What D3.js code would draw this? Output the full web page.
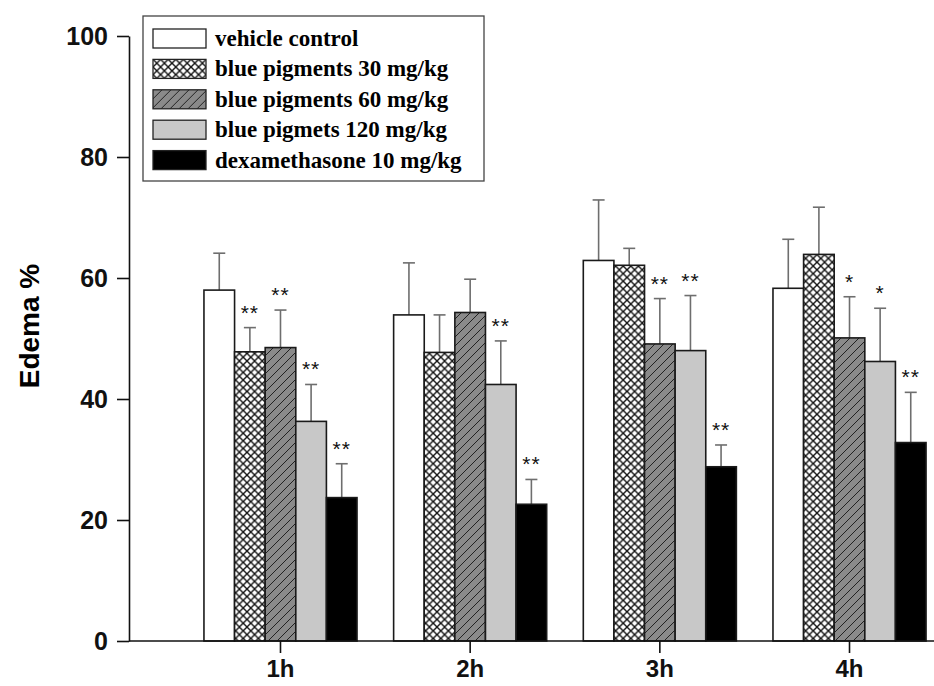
<!DOCTYPE html>
<html>
<head>
<meta charset="utf-8">
<script src="https://cdn.jsdelivr.net/npm/d3@7"></script>
<style>
  body { margin: 0; background: #fff; }
  svg { display: block; }
</style>
</head>
<body>
<svg width="934" height="686"></svg>
<script>
// time points and treatment groups
const timepoints = ["1h", "2h", "3h", "4h"];
const groups = [
    "vehicle control",
    "blue pigments 30 mg/kg",
    "blue pigments 60 mg/kg",
    "blue pigmets 120 mg/kg",
    "dexamethasone 10 mg/kg"
];
// mean edema % per time point (rows) and group (columns)
const means = [
    [58.0, 47.8, 48.5, 36.3, 23.7],
    [53.9, 47.7, 54.3, 42.4, 22.6],
    [62.9, 62.1, 49.1, 48.0, 28.8],
    [58.3, 63.9, 50.1, 46.2, 32.8]
];
// error bar (upper) sizes
const errors = [
    [6.1, 4.0, 6.2, 6.1, 5.6],
    [8.6, 6.2, 5.5, 7.2, 4.1],
    [10.0, 2.8, 7.5, 9.1, 3.6],
    [8.1, 7.8, 6.8, 8.8, 8.3]
];
// significance marks
const marks = [
    ["", "**", "**", "**", "**"],
    ["", "", "", "**", "**"],
    ["", "", "**", "**", "**"],
    ["", "", "*", "*", "**"]
];
const yTicks = [0, 20, 40, 60, 80, 100];

const svg = d3.select("svg");
const W = 934, H = 686;
const axisX = 129;

// fills
const defs = svg.append("defs");
const cross = defs.append("pattern")
    .attr("id", "cross")
    .attr("patternUnits", "userSpaceOnUse")
    .attr("width", 7.6).attr("height", 7.6);
cross.append("rect").attr("width", 7.6).attr("height", 7.6).attr("fill", "#fff");
cross.append("path")
    .attr("d", "M0,0L7.6,7.6M7.6,0L0,7.6")
    .attr("stroke", "#111").attr("stroke-width", 1.4);

const hatch = defs.append("pattern")
    .attr("id", "hatch")
    .attr("patternUnits", "userSpaceOnUse")
    .attr("width", 9).attr("height", 9);
hatch.append("rect").attr("width", 9).attr("height", 9).attr("fill", "#8a8a8a");
hatch.append("path")
    .attr("d", "M0,9L9,0M-2,2L2,-2M7,11L11,7")
    .attr("stroke", "#222").attr("stroke-width", 1);

const fills = ["#fff", "url(#cross)", "url(#hatch)", "#c8c8c8", "#000"];

// scales
const y = d3.scaleLinear().domain([0, 100]).range([641, 36]);

const x0 = d3.scaleBand()
    .domain(timepoints)
    .range([185.65, 944.35])
    .paddingInner(0.193)
    .paddingOuter(0.0965);

const x1 = d3.scaleBand()
    .domain(groups)
    .range([0, x0.bandwidth()]);

// table for drawing
const rows = [];
timepoints.forEach((t, i) => {
    groups.forEach((g, j) => {
        rows.push({ time: t, group: g, idx: j, value: means[i][j], err: errors[i][j], mark: marks[i][j] });
    });
});

const plot = svg.append("g");

// error bars (behind bars)
const eb = plot.selectAll(".err")
    .data(rows)
    .enter().append("g")
    .attr("class", "err")
    .attr("stroke", "#6e6e6e")
    .attr("stroke-width", 1.6);

eb.append("line")
    .attr("x1", d => x0(d.time) + x1(d.group) + x1.bandwidth() / 2)
    .attr("x2", d => x0(d.time) + x1(d.group) + x1.bandwidth() / 2)
    .attr("y1", d => y(d.value))
    .attr("y2", d => y(d.value + d.err));

eb.append("line")
    .attr("x1", d => x0(d.time) + x1(d.group) + x1.bandwidth() / 2 - 6)
    .attr("x2", d => x0(d.time) + x1(d.group) + x1.bandwidth() / 2 + 6)
    .attr("y1", d => y(d.value + d.err))
    .attr("y2", d => y(d.value + d.err));

// bars
plot.selectAll(".bar")
    .data(rows)
    .enter().append("rect")
    .attr("class", "bar")
    .attr("x", d => x0(d.time) + x1(d.group))
    .attr("y", d => y(d.value))
    .attr("width", x1.bandwidth())
    .attr("height", d => y(0) - y(d.value))
    .attr("fill", d => fills[d.idx])
    .attr("stroke", "#1a1a1a")
    .attr("stroke-width", 1.6);

// stars
plot.selectAll(".star")
    .data(rows.filter(d => d.mark))
    .enter().append("text")
    .attr("class", "star")
    .attr("x", d => x0(d.time) + x1(d.group) + x1.bandwidth() / 2)
    .attr("y", d => y(d.value + d.err) - 8)
    .attr("text-anchor", "middle")
    .style("font-family", "Liberation Sans, Arial, sans-serif")
    .style("font-size", "21px")
    .style("letter-spacing", "1px")
    .attr("fill", "#111")
    .text(d => d.mark);

// y axis
const yAxis = svg.append("g")
    .attr("transform", `translate(${axisX},0)`)
    .call(d3.axisLeft(y).tickValues(yTicks).tickSize(12).tickSizeOuter(0).tickPadding(9));
yAxis.select(".domain").attr("stroke", "#111").attr("stroke-width", 1.6);
yAxis.selectAll(".tick line").attr("stroke", "#111").attr("stroke-width", 1.6);
yAxis.selectAll(".tick text")
    .style("font-family", "Liberation Sans, Arial, sans-serif")
    .style("font-size", "25px")
    .style("font-weight", "bold")
    .attr("fill", "#111");

// x axis
const xAxis = svg.append("g")
    .attr("transform", `translate(0,${y(0)})`)
    .call(d3.axisBottom(x0).tickSize(12).tickSizeOuter(0).tickPadding(7));
xAxis.select(".domain").remove();
xAxis.append("line")
    .attr("x1", axisX).attr("x2", W)
    .attr("stroke", "#111").attr("stroke-width", 1.6);
xAxis.selectAll(".tick line").attr("stroke", "#111").attr("stroke-width", 1.6);
xAxis.selectAll(".tick text")
    .style("font-family", "Liberation Sans, Arial, sans-serif")
    .style("font-size", "24px")
    .style("font-weight", "bold")
    .attr("fill", "#111");

// y axis title
svg.append("text")
    .attr("transform", "translate(39,326) rotate(-90)")
    .attr("text-anchor", "middle")
    .style("font-family", "Liberation Sans, Arial, sans-serif")
    .style("font-size", "28px")
    .style("font-weight", "bold")
    .text("Edema %");

// legend
const legend = svg.append("g");
legend.append("rect")
    .attr("x", 143).attr("y", 16)
    .attr("width", 341).attr("height", 165)
    .attr("fill", "#fff")
    .attr("stroke", "#444")
    .attr("stroke-width", 1.3);

const item = legend.selectAll(".item")
    .data(groups)
    .enter().append("g")
    .attr("class", "item")
    .attr("transform", (d, i) => `translate(153,${29 + i * 30.4})`);

item.append("rect")
    .attr("width", 53).attr("height", 19)
    .attr("fill", (d, i) => fills[i])
    .attr("stroke", "#222")
    .attr("stroke-width", 1.3);

item.append("text")
    .attr("x", 62)
    .attr("y", 17)
    .style("font-family", "Liberation Serif, Times New Roman, serif")
    .style("font-size", "23px")
    .style("font-weight", "bold")
    .text(d => d);
</script>
</body>
</html>
